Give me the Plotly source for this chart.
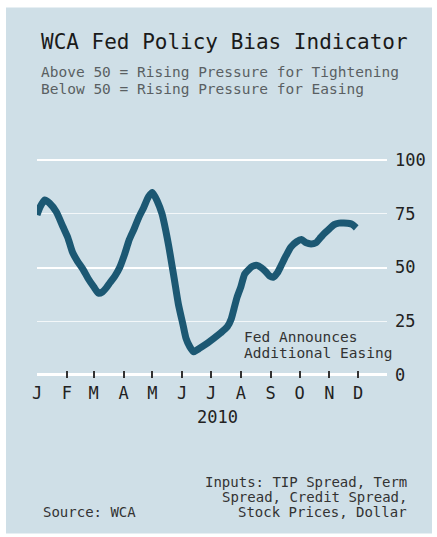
import plotly.graph_objects as go

# ---- data ----
dates = [
    "2010-01-01", "2010-01-04", "2010-01-09", "2010-01-14", "2010-01-21", "2010-01-28",
    "2010-02-02", "2010-02-07", "2010-02-12", "2010-02-18", "2010-02-23",
    "2010-03-01", "2010-03-06", "2010-03-10", "2010-03-14", "2010-03-18", "2010-03-23", "2010-03-28",
    "2010-04-02", "2010-04-07", "2010-04-12", "2010-04-17", "2010-04-22", "2010-04-27",
    "2010-05-01", "2010-05-06", "2010-05-11", "2010-05-15", "2010-05-18", "2010-05-21",
    "2010-05-24", "2010-05-28",
    "2010-06-02", "2010-06-05", "2010-06-09", "2010-06-13", "2010-06-18", "2010-06-23", "2010-06-28",
    "2010-07-04", "2010-07-11", "2010-07-18", "2010-07-22", "2010-07-25", "2010-07-28",
    "2010-08-01", "2010-08-05", "2010-08-09", "2010-08-13", "2010-08-18", "2010-08-22",
    "2010-08-27", "2010-08-31",
    "2010-09-04", "2010-09-08", "2010-09-12", "2010-09-17", "2010-09-22", "2010-09-28",
    "2010-10-03", "2010-10-08", "2010-10-13", "2010-10-18", "2010-10-23", "2010-10-27",
    "2010-11-01", "2010-11-06", "2010-11-11", "2010-11-16", "2010-11-22", "2010-11-25",
    "2010-11-29",
]
bias = [
    74.5, 78, 81.5, 80, 76, 69,
    64, 57, 53, 49, 45,
    41, 38, 38.6, 40.5, 43, 46, 50,
    56, 63, 68, 73.5, 78, 83,
    85, 81, 75, 67, 60, 52,
    44, 33,
    23, 17, 13, 10.7, 12, 13.5, 15,
    17, 19.5, 22.4, 26, 31, 36,
    41, 47, 49, 50.5, 51, 50,
    48, 46,
    45.5, 47.5, 51, 55.5, 59.5, 62,
    63, 61.5, 61, 61.5, 64, 66,
    68, 70, 70.7, 70.7, 70.5, 70,
    68.5,
]
month_ticks = ["2010-01-01", "2010-02-01", "2010-03-01", "2010-04-01", "2010-05-01", "2010-06-01",
               "2010-07-01", "2010-08-01", "2010-09-01", "2010-10-01", "2010-11-01", "2010-12-01"]
month_labels = ["J", "F", "M", "A", "M", "J", "J", "A", "S", "O", "N", "D"]
y_ticks = [0, 25, 50, 75, 100]
y_major_grid = [50, 100]
y_minor_grid = [25, 75]

# ---- layout geometry (pixels) ----
W, H = 437, 537
L, R = 37, 387
Y100, Y0 = 160, 375          # pixel rows of value 100 and value 0
YMIN, YMAX = -1.5, 101.5     # small padding so edge gridlines are drawn
k = (Y0 - Y100) / 100.0
T = Y100 - (YMAX - 100) * k
B = Y0 + (0 - YMIN) * k
PANEL = "#cfdfe7"
LINE = "#1c5873"
FONT = "DejaVu Sans Mono"


def px(x):
    return (x - L) / (R - L)


def py(y):
    return (B - y) / (B - T)


fig = go.Figure()
fig.add_trace(go.Scatter(
    x=dates, y=bias, mode="lines",
    line=dict(color=LINE, width=7, shape="spline", smoothing=0.6),
    hoverinfo="skip", showlegend=False,
))

fig.update_layout(
    width=W, height=H,
    margin=dict(l=L, r=W - R, t=T, b=H - B, pad=0),
    paper_bgcolor="white",
    plot_bgcolor=PANEL,
    font=dict(family=FONT, color="#222222"),
    xaxis=dict(
        type="date",
        range=["2010-01-01", "2010-12-31"],
        tickmode="array", tickvals=month_ticks, ticktext=month_labels,
        ticks="inside", ticklen=7, tickwidth=2, tickcolor="#333333",
        tickfont=dict(size=17, color="#222222"),
        ticklabelstandoff=3,
        showgrid=False, zeroline=False, showline=False,
    ),
    yaxis=dict(
        range=[YMIN, YMAX],
        tickmode="array", tickvals=y_major_grid,
        showticklabels=False, ticks="",
        showgrid=True, gridcolor="white", gridwidth=2,
        minor=dict(tickmode="array", tickvals=y_minor_grid, showgrid=True,
                   gridcolor="rgba(255,255,255,0.75)", gridwidth=1, ticks=""),
        zeroline=True, zerolinecolor="white", zerolinewidth=3,
        showline=False,
    ),
    yaxis2=dict(
        overlaying="y", side="right", range=[YMIN, YMAX],
        tickmode="array", tickvals=y_ticks,
        ticks="", showgrid=False, zeroline=False, showline=False,
        tickfont=dict(size=17, color="#222222"),
        ticklabelstandoff=7,
    ),
)

# invisible trace so yaxis2 is drawn
fig.add_trace(go.Scatter(x=[dates[0]], y=[None], yaxis="y2", showlegend=False,
                         hoverinfo="skip", mode="lines"))

# background panel
fig.add_shape(type="rect", xref="paper", yref="paper",
              x0=px(6), x1=px(432), y0=py(534), y1=py(7),
              fillcolor=PANEL, line=dict(width=0), layer="below")


def note(text, x, y, size, color="#222222", xanchor="left"):
    fig.add_annotation(text=text, xref="paper", yref="paper", x=px(x), y=py(y),
                       xanchor=xanchor, yanchor="middle", showarrow=False,
                       font=dict(family=FONT, size=size, color=color))


note("WCA Fed Policy Bias Indicator", 39, 42, 21, "#1a1a1a")
note("Above 50 = Rising Pressure for Tightening", 39, 71.5, 14.5, "#5a5f63")
note("Below 50 = Rising Pressure for Easing", 39, 88.5, 14.5, "#5a5f63")
note("Fed Announces", 242, 337, 14.5, "#333333")
note("Additional Easing", 242, 353, 14.5, "#333333")
note("2010", 217.5, 417, 17, "#222222", xanchor="center")
note("Inputs: TIP Spread, Term", 409, 482, 14, "#333333", xanchor="right")
note("Spread, Credit Spread,", 409, 497, 14, "#333333", xanchor="right")
note("Stock Prices, Dollar", 409, 512, 14, "#333333", xanchor="right")
note("Source: WCA", 41, 512, 14, "#333333")

fig.write_html("out.html")
